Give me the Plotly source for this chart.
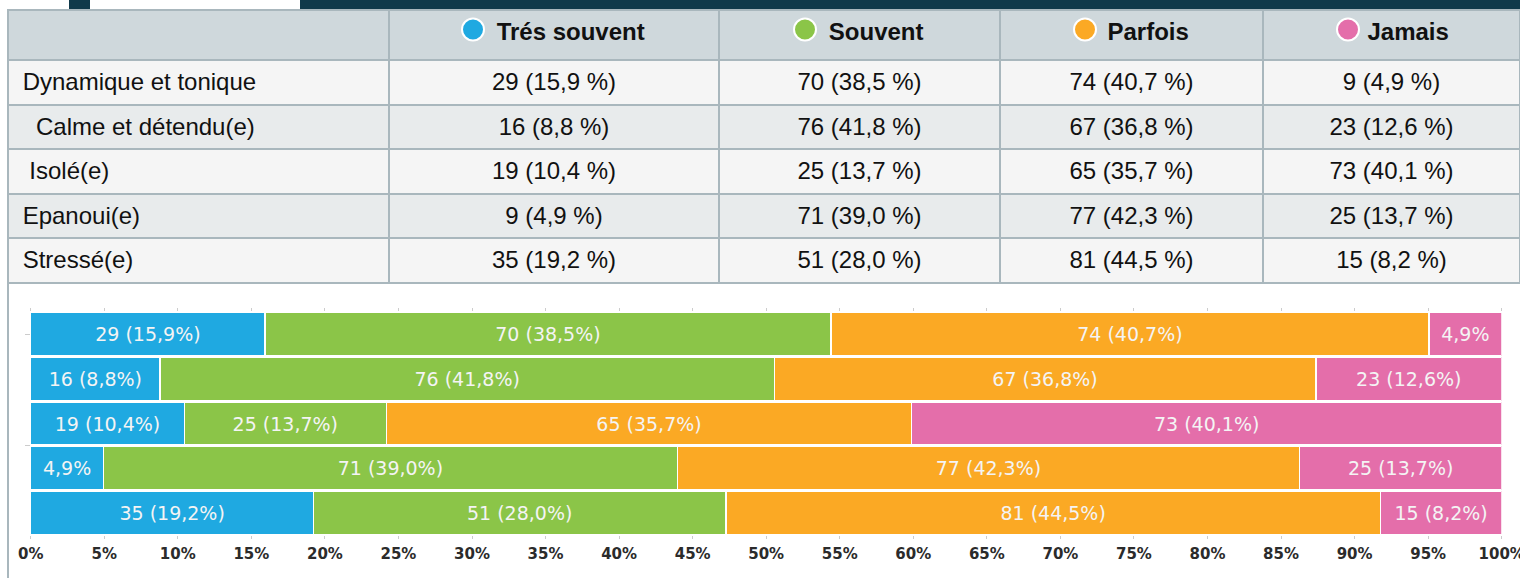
import plotly.graph_objects as go

W, H = 1520, 578

# ---------------- data ----------------
categories = ["Dynamique et tonique", "Calme et détendu(e)", "Isolé(e)", "Epanoui(e)", "Stressé(e)"]
label_indent = [0, 2, 1, 0, 0]  # leading spaces seen in the table labels

series_names = ["Trés souvent", "Souvent", "Parfois", "Jamais"]
series_colors = ["#1fa9e1", "#8bc548", "#fba924", "#e46eaa"]

tres_souvent_counts = [29, 16, 19, 9, 35]
souvent_counts = [70, 76, 25, 71, 51]
parfois_counts = [74, 67, 65, 77, 81]
jamais_counts = [9, 23, 73, 25, 15]

tres_souvent_pct = [15.9, 8.8, 10.4, 4.9, 19.2]
souvent_pct = [38.5, 41.8, 13.7, 39.0, 28.0]
parfois_pct = [40.7, 36.8, 35.7, 42.3, 44.5]
jamais_pct = [4.9, 12.6, 40.1, 13.7, 8.2]

x_ticks = list(range(0, 101, 5))

all_counts = [tres_souvent_counts, souvent_counts, parfois_counts, jamais_counts]
all_pct = [tres_souvent_pct, souvent_pct, parfois_pct, jamais_pct]
row_totals = [sum(c[i] for c in all_counts) for i in range(len(categories))]


def fr(v):
    return f"{v:.1f}".replace(".", ",")


def cell(txt):
    # 24px text inside a 32px text element -> baseline lower in the cell;
    # trailing <br> keeps plotly from re-wrapping the markup
    return f'<span style="font-size:24px">{txt}</span><br>'


# ---------------- figure ----------------
fig = go.Figure()

# table
row_fills = ["#f5f5f5", "#e8ebec", "#f5f5f5", "#e8ebec", "#f5f5f5"]
header_vals = [cell("")] + [cell("\u00a0" * 5 + f"<b>{n}</b>") for n in series_names]
label_col = [cell("\u00a0" * (1 + k) + c) for c, k in zip(categories, label_indent)]
value_cols = [[cell(f"{n} ({fr(p)} %)") for n, p in zip(cs, ps)] for cs, ps in zip(all_counts, all_pct)]

fig.add_trace(go.Table(
    domain=dict(x=[8 / W, 1], y=[1 - 300 / H, 1 - 10 / H]),
    columnwidth=[381, 330, 281, 263, 257],
    header=dict(
        values=header_vals,
        fill_color="#cfd8dc",
        line=dict(color="#a9b7bd", width=2),
        align="center",
        font=dict(family="Liberation Sans", size=32, color="#111111"),
        height=50,
    ),
    cells=dict(
        values=[label_col] + value_cols,
        fill_color=[row_fills] * 5,
        line=dict(color="#a9b7bd", width=2),
        align=["left", "center", "center", "center", "center"],
        font=dict(family="Liberation Sans", size=32, color="#111111"),
        height=44.6,
    ),
))

# stacked bars
for name, color, cs, ps in zip(series_names, series_colors, all_counts, all_pct):
    share = [c / t * 100 for c, t in zip(cs, row_totals)]
    labels = [f"{fr(p)}%" if p < 6 else f"{c} ({fr(p)}%)" for c, p in zip(cs, ps)]
    fig.add_trace(go.Bar(
        y=categories, x=share, orientation="h", name=name,
        marker=dict(color=color, line=dict(color="white", width=1.5)),
        text=labels, textposition="inside", insidetextanchor="middle",
        textfont=dict(family="DejaVu Sans", size=19, color="#f4f4f4"),
        constraintext="none", hoverinfo="skip", showlegend=False,
    ))

# header legend dots (layout positions in px)
icon_x = [473, 805, 1085, 1348]
icon_y, icon_r = 29.5, 11

shapes = [
    dict(type="rect", xref="paper", yref="paper", x0=69 / W, x1=90 / W, y0=1 - 9 / H, y1=1,
         fillcolor="#10394a", line=dict(width=0), layer="below"),
    dict(type="rect", xref="paper", yref="paper", x0=300 / W, x1=1, y0=1 - 9 / H, y1=1,
         fillcolor="#10394a", line=dict(width=0), layer="below"),
    dict(type="line", xref="paper", yref="paper", x0=8 / W, x1=8 / W, y0=0, y1=1 - 284 / H,
         line=dict(color="#a9b7bd", width=2)),
]
for cx, col in zip(icon_x, series_colors):
    shapes.append(dict(type="circle", xref="paper", yref="paper",
                       x0=(cx - icon_r) / W, x1=(cx + icon_r) / W,
                       y0=1 - (icon_y + icon_r) / H, y1=1 - (icon_y - icon_r) / H,
                       fillcolor=col, line=dict(color="white", width=2), layer="above"))

fig.update_layout(
    width=W, height=H,
    margin=dict(l=0, r=0, t=0, b=0, pad=0, autoexpand=False),
    paper_bgcolor="white", plot_bgcolor="white",
    barmode="stack", bargap=0.03,
    uniformtext=dict(minsize=19, mode="show"),
    shapes=shapes,
    xaxis=dict(
        domain=[30.7 / W, 1501.7 / W], range=[0, 100],
        tickvals=x_ticks, ticktext=[f"{v}%" for v in x_ticks],
        ticks="outside", ticklen=3, tickwidth=1, tickcolor="#cccccc",
        mirror="ticks", showline=True, linecolor="rgba(0,0,0,0)",
        showgrid=False, zeroline=False, fixedrange=True, automargin=False,
        tickfont=dict(family="DejaVu Sans", size=15, color="#2b2b2b", weight="bold"),
        ticklabelstandoff=2, ticklabeloverflow="allow",
    ),
    yaxis=dict(
        domain=[(H - 535) / H, (H - 312) / H],
        autorange="reversed", showticklabels=False,
        ticks="outside", ticklen=5, tickcolor="#cccccc", tickvals=[0, 2.5],
        showgrid=False, zeroline=False, fixedrange=True, automargin=False,
    ),
)

fig.write_html(
    "out.html",
    config={"displayModeBar": False},
    post_script="document.body.style.margin='0';document.documentElement.style.overflow='hidden';",
)
